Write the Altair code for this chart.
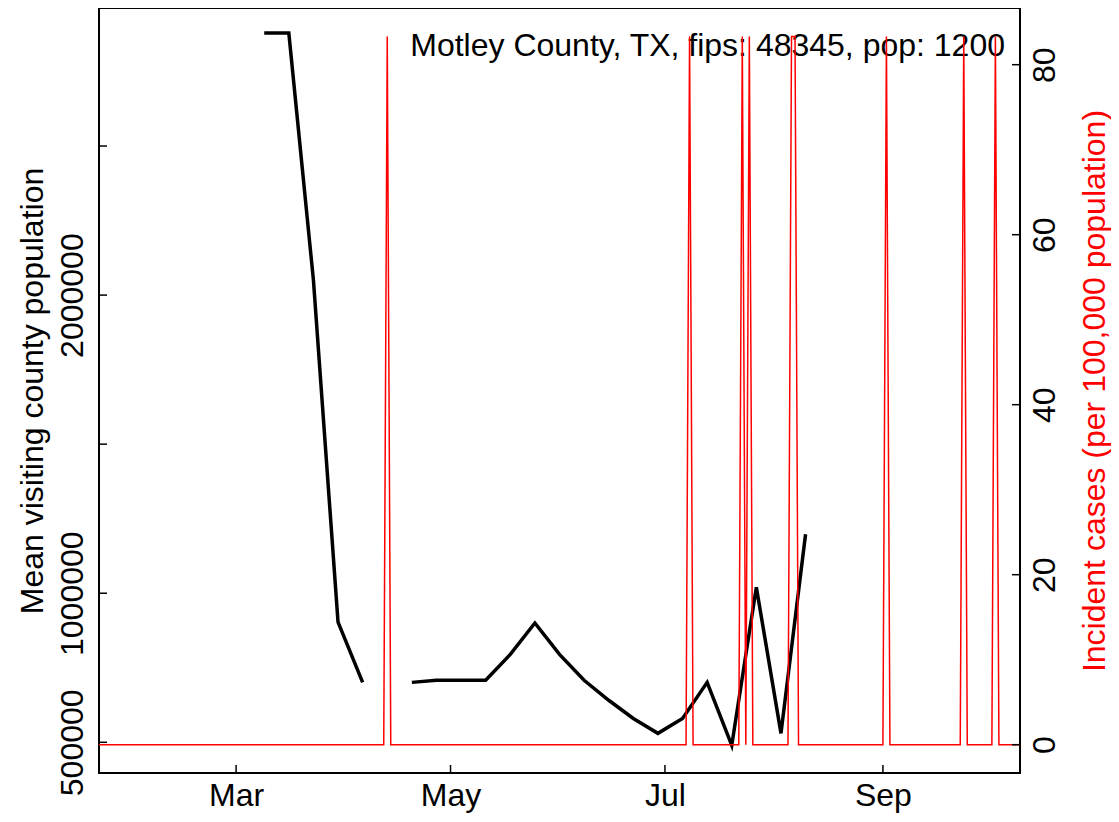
import altair as alt
import pandas as pd

# ---------------- data ----------------
black_dates = ["2020-03-09", "2020-03-16", "2020-03-23", "2020-03-30", "2020-04-06",
               "2020-04-20", "2020-04-27", "2020-05-04", "2020-05-11", "2020-05-18",
               "2020-05-25", "2020-06-01", "2020-06-08", "2020-06-15", "2020-06-22",
               "2020-06-29", "2020-07-06", "2020-07-13", "2020-07-20", "2020-07-27",
               "2020-08-03", "2020-08-10"]
black_values = [2879000, 2879000, 2050000, 903000, 701000,
                701000, 708000, 708000, 708000, 795000,
                900000, 795000, 708000, 641000, 580000,
                530000, 580000, 701000, 490000, 1020000,
                530000, 1198000]
black_segment = [1, 1, 1, 1, 1] + [2] * 17

case_start = "2020-01-22"
case_end = "2020-10-10"
spike_dates = ["2020-04-13", "2020-07-08", "2020-07-23", "2020-07-25", "2020-08-06",
               "2020-08-07", "2020-09-02", "2020-09-24", "2020-10-03"]
spike_value = 83.33  # one case per 1200 people, per 100,000

left_tick_values = [500000, 1000000, 1500000, 2000000, 2500000]
left_label_values = [500000, 1000000, 2000000]
right_tick_values = [0, 20, 40, 60, 80]
x_tick_dates = ["2020-03-01", "2020-05-01", "2020-07-01", "2020-09-01"]

title_text = "Motley County, TX, fips: 48345, pop: 1200"

# ---------------- tables ----------------
df_black = pd.DataFrame({"date": black_dates, "v": black_values, "seg": black_segment})
red_days = pd.date_range(case_start, case_end, freq="D")
df_red = pd.DataFrame({
    "date": red_days.strftime("%Y-%m-%d"),
    "c": [spike_value if d.strftime("%Y-%m-%d") in spike_dates else 0.0 for d in red_days],
})
df_lt = pd.DataFrame({"v": left_tick_values})
df_rt = pd.DataFrame({"c": right_tick_values})
df_xt = pd.DataFrame({"date": x_tick_dates})
df_txt = pd.DataFrame({"t": [title_text]})

# ---------------- styling ----------------
W, H = 921, 765
FONT = "Liberation Sans"
FS = 32

x_scale = alt.Scale(domain=[alt.DateTime(year=2020, month=1, date=22),
                            alt.DateTime(year=2020, month=10, date=10)])
x_axis = alt.Axis(
    values=[alt.DateTime(year=2020, month=int(d[5:7]), date=1) for d in x_tick_dates],
    format="%b", labelFont=FONT, labelFontSize=FS, labelColor="black",
    labelAngle=0, labelAlign="center", labelBaseline="alphabetic", labelPadding=32,
    ticks=False, tickSize=0, domain=False, grid=False, labelFlush=False,
    labelOverlap=False, title=None,
)

left_axis = alt.Axis(
    values=left_label_values, format="d", orient="left",
    labelFont=FONT, labelFontSize=FS, labelColor="black",
    labelAngle=270, labelAlign="center", labelBaseline="alphabetic", labelPadding=17,
    ticks=False, tickSize=0, domain=False, grid=False, labelOverlap=False, labelFlush=False,
    title="Mean visiting county population", titleFont=FONT, titleFontSize=FS,
    titleFontWeight="normal", titleColor="black", titleAngle=270, titleAlign="center",
    titleBaseline="alphabetic", titleX=-57, titleY=H / 2,
)

right_axis = alt.Axis(
    values=right_tick_values, format="d", orient="right",
    labelFont=FONT, labelFontSize=FS, labelColor="black",
    labelAngle=270, labelAlign="center", labelBaseline="alphabetic", labelPadding=34,
    ticks=False, tickSize=0, domain=False, grid=False, labelOverlap=False, labelFlush=False,
    title="Incident cases (per 100,000 population)", titleFont=FONT, titleFontSize=FS,
    titleFontWeight="normal", titleColor="red", titleAngle=270, titleAlign="center",
    titleBaseline="alphabetic", titleX=84, titleY=H / 2,
)

y_left_scale = alt.Scale(domain=[397000, 2963000], nice=False, zero=False)
y_right_scale = alt.Scale(domain=[-3.33, 86.67], nice=False, zero=False)

x_enc = alt.X("date:T", scale=x_scale, axis=x_axis)
yl_enc = alt.Y("v:Q", scale=y_left_scale, axis=left_axis)
yr_enc = alt.Y("c:Q", scale=y_right_scale, axis=right_axis)

# ---------------- left group ----------------
black = alt.Chart(df_black).mark_line(color="black", strokeWidth=3.5, clip=True).encode(
    x=x_enc, y=yl_enc, detail="seg:N",
)
left_ticks = alt.Chart(df_lt).mark_rule(color="black", strokeWidth=1.5).encode(
    y=yl_enc, x=alt.value(0), x2=alt.value(8),
)
x_ticks = alt.Chart(df_xt).mark_rule(color="black", strokeWidth=1.5).encode(
    x=x_enc, y=alt.value(H - 8), y2=alt.value(H),
)
label = alt.Chart(df_txt).mark_text(
    align="right", baseline="alphabetic", font=FONT, fontSize=FS, color="black"
).encode(text="t:N", x=alt.value(906), y=alt.value(48))

left_group = alt.layer(black, left_ticks, x_ticks, label)

# ---------------- right group ----------------
red = alt.Chart(df_red).mark_line(color="red", strokeWidth=1.5, clip=True).encode(
    x=x_enc, y=yr_enc,
)
right_ticks = alt.Chart(df_rt).mark_rule(color="black", strokeWidth=1.5).encode(
    y=yr_enc, x=alt.value(W - 8), x2=alt.value(W),
)
right_group = alt.layer(red, right_ticks)

chart = alt.layer(left_group, right_group).resolve_scale(y="independent").properties(
    width=W, height=H,
    autosize=alt.AutoSizeParams(type="none"),
    padding={"left": 91, "top": 0, "right": 91, "bottom": 41},
).configure_view(stroke="black", strokeWidth=2)

chart.save("out.html", embed_options={"renderer": "svg", "actions": False})
